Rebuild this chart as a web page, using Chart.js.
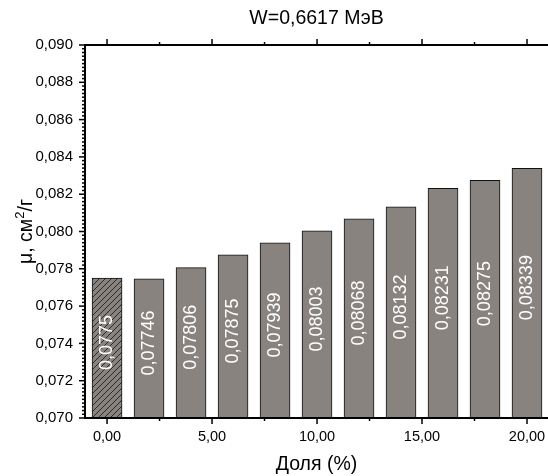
<!DOCTYPE html>
<html>
<head>
<meta charset="utf-8">
<script src="https://cdn.jsdelivr.net/npm/chart.js@4.4.1/dist/chart.umd.min.js"></script>
<style>
  html, body { margin: 0; padding: 0; background: #fff; }
  #wrap { width: 548px; height: 476px; }
</style>
</head>
<body>
<div id="wrap"><canvas id="muChart" width="548" height="476"></canvas></div>
<script>
// данные: доля (%) и μ (см²/г)
const shares = [0, 2, 4, 6, 8, 10, 12, 14, 16, 18, 20];
const muValues = [0.0775, 0.07746, 0.07806, 0.07875, 0.07939, 0.08003, 0.08068, 0.08132, 0.08231, 0.08275, 0.08339];
const xTickValues = [0, 5, 10, 15, 20];
const chartTitle = "W=0,6617 МэВ";
const xTitle = "Доля (%)";
const yTitleParts = ["μ, см", "2", "/г"]; // текст, верхний индекс, текст

const FONT = 'Arial, "Liberation Sans", sans-serif';
const BAR_COLOR = "#898380";

// штриховка для первого столбца
function hatchPattern() {
  const c = document.createElement("canvas");
  c.width = 6;
  c.height = 6;
  const g = c.getContext("2d");
  g.fillStyle = BAR_COLOR;
  g.fillRect(0, 0, 6, 6);
  g.strokeStyle = "#2a2a2a";
  g.lineWidth = 1;
  g.beginPath();
  g.moveTo(0, 6); g.lineTo(6, 0);
  g.moveTo(-1, 1); g.lineTo(1, -1);
  g.moveTo(5, 7); g.lineTo(7, 5);
  g.stroke();
  return g.createPattern(c, "repeat");
}

const comma = (s) => s.replace(".", ",");

// заголовок и подпись оси Y (с верхним индексом)
const titlePlugin = {
  id: "titlePlugin",
  afterDraw(chart) {
    const { ctx, chartArea: a } = chart;
    ctx.save();
    ctx.fillStyle = "#000";
    ctx.font = `19.5px ${FONT}`;
    ctx.textAlign = "center";
    ctx.textBaseline = "middle";
    ctx.fillText(chartTitle, (a.left + a.right) / 2, 19);

    // ось Y: повернутый текст, базовая линия на x = 32
    const big = `19.5px ${FONT}`;
    const small = `13px ${FONT}`;
    ctx.font = big;
    const w0 = ctx.measureText(yTitleParts[0]).width;
    const w2 = ctx.measureText(yTitleParts[2]).width;
    ctx.font = small;
    const w1 = ctx.measureText(yTitleParts[1]).width;
    const total = w0 + w1 + w2;
    ctx.translate(32, (a.top + a.bottom) / 2);
    ctx.rotate(-Math.PI / 2);
    ctx.textAlign = "left";
    ctx.textBaseline = "alphabetic";
    let px = -total / 2;
    ctx.font = big;
    ctx.fillText(yTitleParts[0], px, 0);
    px += w0;
    ctx.font = small;
    ctx.fillText(yTitleParts[1], px, -8);
    px += w1;
    ctx.font = big;
    ctx.fillText(yTitleParts[2], px, 0);
    ctx.restore();
  },
};

// подписи значений внутри столбцов (повернуты)
const barValues = {
  id: "barValues",
  afterDraw(chart) {
    const { ctx, scales } = chart;
    const x = scales.x, y = scales.y;
    const base = y.getPixelForValue(y.min);
    ctx.save();
    ctx.fillStyle = "#fff";
    ctx.font = `18px ${FONT}`;
    ctx.textAlign = "center";
    ctx.textBaseline = "middle";
    muValues.forEach((v, i) => {
      const top = y.getPixelForValue(v);
      ctx.save();
      ctx.translate(x.getPixelForValue(shares[i]), (top + base) / 2 - 5.5);
      ctx.rotate(-Math.PI / 2);
      ctx.fillText(comma(String(v)), 0, 0);
      ctx.restore();
    });
    ctx.restore();
  },
};

// оси в стиле Origin: рамка сверху, основные и дополнительные засечки
const axisFrame = {
  id: "axisFrame",
  afterDraw(chart) {
    const { ctx, chartArea: a, scales } = chart;
    const x = scales.x, y = scales.y;
    const seg = (x1, y1, x2, y2) => {
      ctx.beginPath();
      ctx.moveTo(x1, y1);
      ctx.lineTo(x2, y2);
      ctx.stroke();
    };
    ctx.save();
    ctx.strokeStyle = "#000";
    ctx.lineWidth = 1.5;
    for (let i = 0; i <= 100; i++) {
      const py = y.getPixelForValue(y.min + i * 0.0002);
      const len = i % 10 === 0 ? 6 : 3;
      seg(a.left - len, py, a.left, py);
    }
    for (let i = 0; i <= 8; i++) {
      const px = x.getPixelForValue(i * 2.5);
      const len = i % 2 === 0 ? 6 : 3;
      seg(px, a.bottom, px, a.bottom + len);
      seg(px, a.top, px, a.top - len);
    }
    ctx.lineWidth = 2;
    seg(a.left, a.top - 1, a.left, a.bottom + 1);
    seg(a.left - 1, a.bottom, a.right, a.bottom);
    seg(a.left - 1, a.top, a.right, a.top);
    ctx.restore();
  },
};

const hatch = hatchPattern();

new Chart(document.getElementById("muChart"), {
  type: "bar",
  data: {
    datasets: [
      {
        data: shares.map((s, i) => ({ x: s, y: muValues[i] })),
        backgroundColor: (c) => (c.dataIndex === 0 ? hatch : BAR_COLOR),
        borderColor: "#111",
        borderWidth: 1,
        barThickness: 30,
      },
    ],
  },
  options: {
    responsive: false,
    animation: false,
    layout: { padding: { top: 45, right: 0, left: 0, bottom: 0 } },
    plugins: {
      legend: { display: false },
      title: { display: false },
      tooltip: { enabled: false },
    },
    scales: {
      x: {
        type: "linear",
        offset: false,
        min: -1.05,
        max: 21.0,
        grid: { display: false, drawTicks: false, offset: false },
        border: { display: false },
        afterFit: (s) => {
          s.height = 58;
          s.paddingLeft = 0;
          s.paddingRight = 0;
        },
        afterBuildTicks: (s) => { s.ticks = xTickValues.map((v) => ({ value: v })); },
        ticks: {
          padding: 10,
          color: "#000",
          font: { family: FONT, size: 14.5 },
          callback: (v) => comma(Number(v).toFixed(2)),
        },
        title: {
          display: true,
          text: xTitle,
          color: "#000",
          font: { family: FONT, size: 19.5, lineHeight: 1.15 },
          padding: { top: 0, bottom: 0 },
        },
      },
      y: {
        min: 0.07,
        max: 0.09,
        grid: { display: false, drawTicks: false },
        border: { display: false },
        afterFit: (s) => { s.width = 85; },
        ticks: {
          stepSize: 0.002,
          padding: 12,
          color: "#000",
          font: { family: FONT, size: 15 },
          callback: (v) => comma(Number(v).toFixed(3)),
        },
      },
    },
  },
  plugins: [titlePlugin, barValues, axisFrame],
});
</script>
</body>
</html>
